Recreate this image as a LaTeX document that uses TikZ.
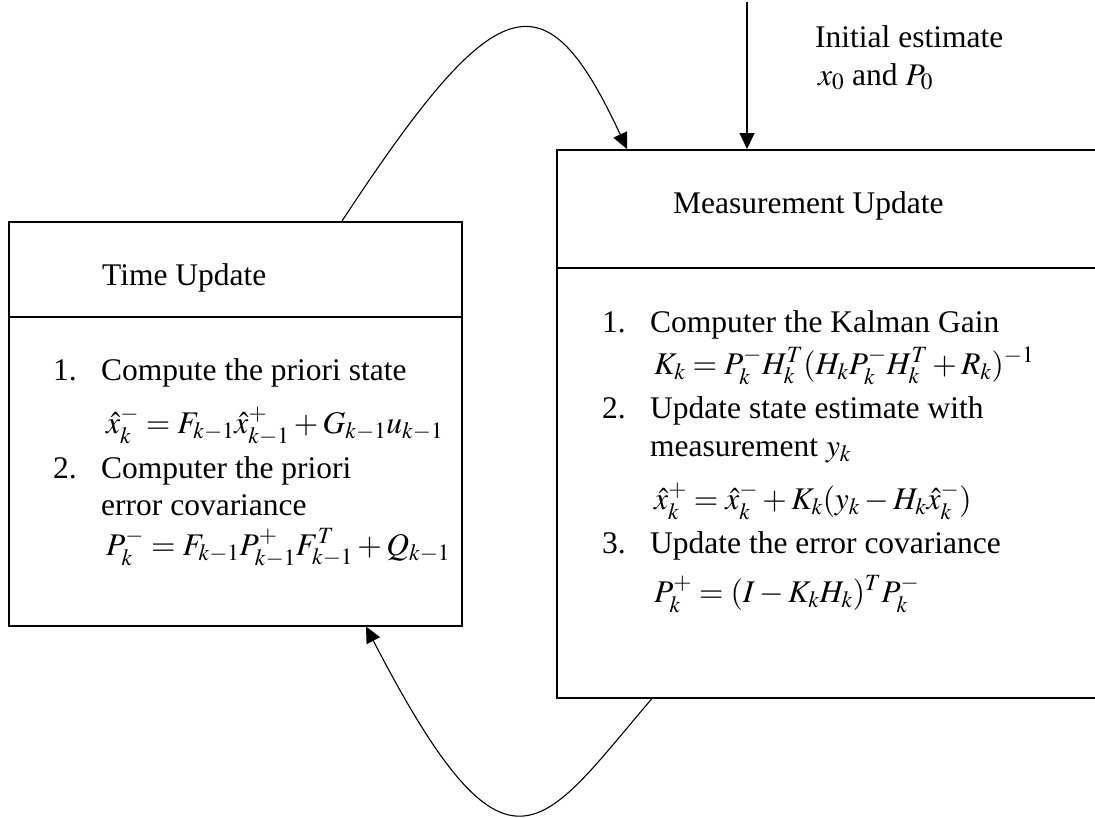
\documentclass[tikz,border=0pt]{standalone}
\usepackage{mathptmx}
\usepackage{fontspec}
\setmainfont{Liberation Serif}
\usetikzlibrary{arrows.meta}
\newcommand{\fsz}{\fontsize{31.5}{38}\selectfont}
\begin{document}
\begin{tikzpicture}[x=1pt,y=-1pt,
  box/.style={draw, line width=1.5pt, rectangle, inner sep=0pt, anchor=north west},
  divider/.style={line width=1.5pt},
  txt/.style={anchor=base west, inner sep=0pt, font=\fsz},
  link/.style={line width=1.1pt, -{Triangle[length=16pt,width=15pt]}}]
\useasboundingbox (0,0) rectangle (1095,817);
% boxes
\node[box, minimum width=453pt, minimum height=404pt] (tbox) at (8,221) {};
\node[box, minimum width=545pt, minimum height=548pt] (mbox) at (556,149) {};
\draw[divider] ([yshift=-96pt]tbox.north west) -- ([yshift=-96pt]tbox.north east);
\draw[divider] ([yshift=-119pt]mbox.north west) -- ([yshift=-119pt]mbox.north east);
% time update text
\node[txt] (tu) at (102,285) {Time Update};
\node[txt] (tn1) at (53,380) {1.};
\node[txt] (tl1) at (101,380) {Compute the priori state};
\node[txt] (te1) at (106,433) {$\hat{x}_k^- = F_{k-1}\hat{x}_{k-1}^+ + G_{k-1}u_{k-1}$};
\node[txt] (tn2) at (53,478) {2.};
\node[txt] (tl2) at (101,478) {Computer the priori};
\node[txt] (tl3) at (101,515) {error covariance};
\node[txt] (te2) at (106,555) {$P_k^- = F_{k-1}P_{k-1}^+F_{k-1}^T + Q_{k-1}$};
% measurement update text
\node[txt] (mu) at (673,213) {Measurement Update};
\node[txt] (mn1) at (602,332) {1.};
\node[txt] (ml1) at (650,332) {Computer the Kalman Gain};
\node[txt] (me1) at (654,374) {$K_k = P_k^- H_k^T (H_k P_k^- H_k^T + R_k)^{-1}$};
\node[txt] (mn2) at (602,418) {2.};
\node[txt] (ml2) at (650,418) {Update state estimate with};
\node[txt] (ml3) at (650,456) {measurement $y_k$};
\node[txt] (me2) at (654,509) {$\hat{x}_k^+ = \hat{x}_k^- + K_k(y_k - H_k\hat{x}_k^-)$};
\node[txt] (mn3) at (602,553) {3.};
\node[txt] (ml4) at (650,553) {Update the error covariance};
\node[txt] (me3) at (654,602) {$P_k^+ = (I - K_k H_k)^T P_k^-$};
% initial estimate
\node[txt] (ie1) at (815,47) {Initial estimate};
\node[txt] (ie2) at (818,85) {$x_0$ and $P_0$};
% connectors
\coordinate (src) at (747,2);
\draw[link] (src) -- (src |- mbox.north);
\coordinate (ts) at ([xshift=334pt]tbox.north west);
\coordinate (me) at ([xshift=71pt]mbox.north west);
\draw[link] (ts) .. controls +(155,-236) and +(-82,-176) .. (me);
\coordinate (ms) at ([xshift=96pt]mbox.south west);
\coordinate (te) at ([xshift=358pt]tbox.south west);
\draw[link] (ms) .. controls +(-110.5,129) and +(142.6,276) .. (te);
\end{tikzpicture}
\end{document}
